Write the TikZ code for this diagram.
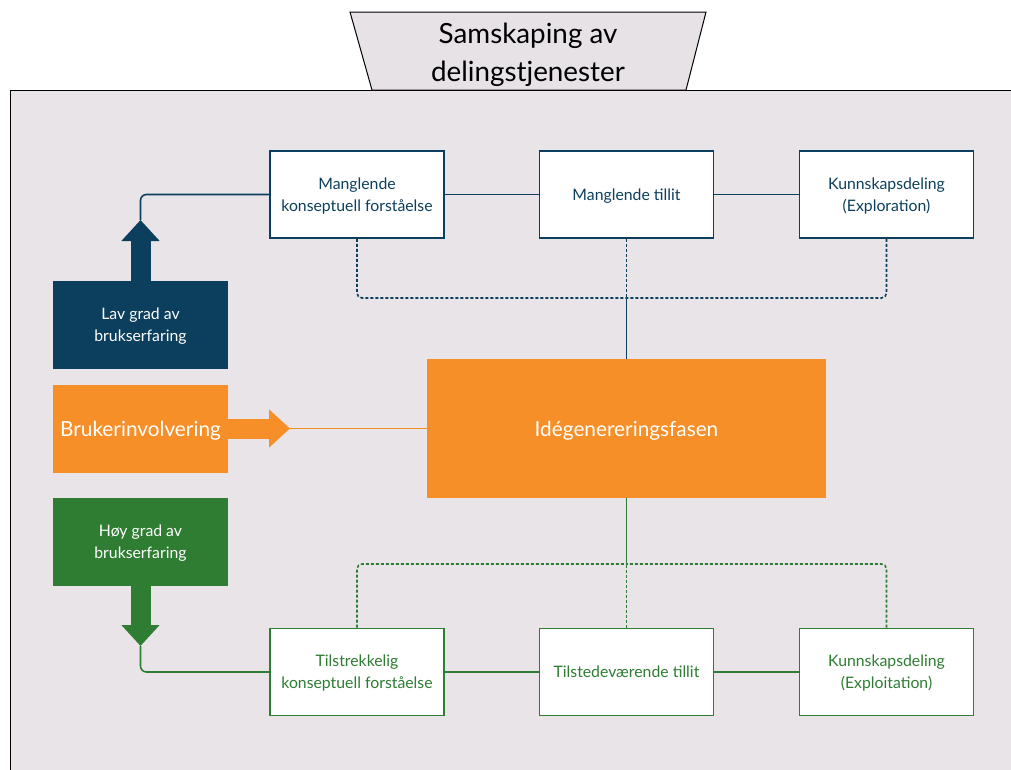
\documentclass[tikz,border=0pt]{standalone}
\usepackage{fontspec}
\setmainfont{Lato}
\usetikzlibrary{arrows.meta}
\definecolor{mblue}{HTML}{0C3F5D}
\definecolor{mgreen}{HTML}{2E7D32}
\definecolor{morange}{HTML}{F78F29}
\definecolor{mbg}{HTML}{E8E4E8}
\definecolor{mtitle}{HTML}{E6E2E6}
\tikzset{
  box/.style={draw,line width=1.8pt,fill=white,minimum width=174pt,minimum height=87pt,
    align=center,inner sep=0pt,text depth=0pt,font=\fontsize{15.8}{22}\selectfont},
  bluebox/.style={box,draw=mblue,text=mblue},
  greenbox/.style={box,draw=mgreen,text=mgreen},
  sidebox/.style={minimum width=175pt,minimum height=88pt,align=center,inner sep=0pt,
    text depth=0pt,text=white,font=\fontsize{15.8}{22}\selectfont},
  blockarrow/.style={line width=20pt,-{Triangle[width=37pt,length=21pt]}},
  link/.style={line width=1.6pt},
  dashlink/.style={line width=1.6pt,dash pattern=on 3pt off 2pt,rounded corners=5pt}
}
\begin{document}
\begin{tikzpicture}[x=1pt,y=-1pt]
    \useasboundingbox (0,0) rectangle (1011,769);
    \draw[fill=mbg,line width=1pt] (10,90) rectangle (1030,790);
    \draw[fill=mtitle,line width=1pt] (350,12) -- (706,12) -- (686,90) -- (372,90) -- cycle;
    \node[align=center,font=\fontsize{27.8}{38}\selectfont] (titel) at (528,55) {Samskaping av\\delingstjenester};

    \node[bluebox] (mkf) at (357,194.5) {Manglende\\konseptuell forståelse};
    \node[bluebox] (mt) at (626.5,194.5) {Manglende tillit};
    \node[bluebox] (kexplor) at (886.5,194.5) {Kunnskapsdeling\\(Exploration)};

    \node[greenbox] (tkf) at (357,672) {Tilstrekkelig\\konseptuell forståelse};
    \node[greenbox] (tt) at (626.5,672) {Tilstedeværende tillit};
    \node[greenbox] (kexploit) at (886.5,672) {Kunnskapsdeling\\(Exploitation)};

    \node[sidebox,fill=mblue] (lav) at (140.5,325) {Lav grad av\\brukserfaring};
    \node[sidebox,fill=morange,font=\fontsize{20.8}{24}\selectfont] (bruker) at (140.5,428.5) {Brukerinvolvering};
    \node[sidebox,fill=mgreen] (hoy) at (140.5,542) {Høy grad av\\brukserfaring};

    \node[fill=morange,minimum width=399pt,minimum height=139pt,text=white,text depth=0pt,
      font=\fontsize{20.8}{24}\selectfont] (ide) at (626.5,428.5) {Idégenereringsfasen};

    \coordinate (lavtip) at (140.5,220);
    \coordinate (brukertip) at (290,428.5);
    \coordinate (hoytip) at (140.5,646);
    \coordinate (topjoin) at (626.5,298);
    \coordinate (botjoin) at (626.5,564);

    % venstre piler
    \draw[blockarrow,mblue] (lav.north) -- (lavtip);
    \draw[link,mblue,rounded corners=6pt] (lavtip) |- (mkf.west);
    \draw[blockarrow,morange] (bruker.east) -- (brukertip);
    \draw[link,morange] (brukertip) -- (ide.west);
    \draw[blockarrow,mgreen] (hoy.south) -- (hoytip);
    \draw[link,mgreen,rounded corners=6pt] (hoytip) |- (tkf.west);

    % rekkene
    \draw[link,mblue] (mkf) -- (mt) (mt) -- (kexplor);
    \draw[link,mgreen] (tkf) -- (tt) (tt) -- (kexploit);

    % stiplet
    \draw[dashlink,mblue] (mkf.south) |- (topjoin);
    \draw[dashlink,mblue] (kexplor.south) |- (topjoin);
    \draw[dashlink,mblue] (mt.south) -- (topjoin);
    \draw[link,mblue] (topjoin) -- (ide.north);
    \draw[dashlink,mgreen] (tkf.north) |- (botjoin);
    \draw[dashlink,mgreen] (kexploit.north) |- (botjoin);
    \draw[dashlink,mgreen] (tt.north) -- (botjoin);
    \draw[link,mgreen] (ide.south) -- (botjoin);
\end{tikzpicture}
\end{document}
